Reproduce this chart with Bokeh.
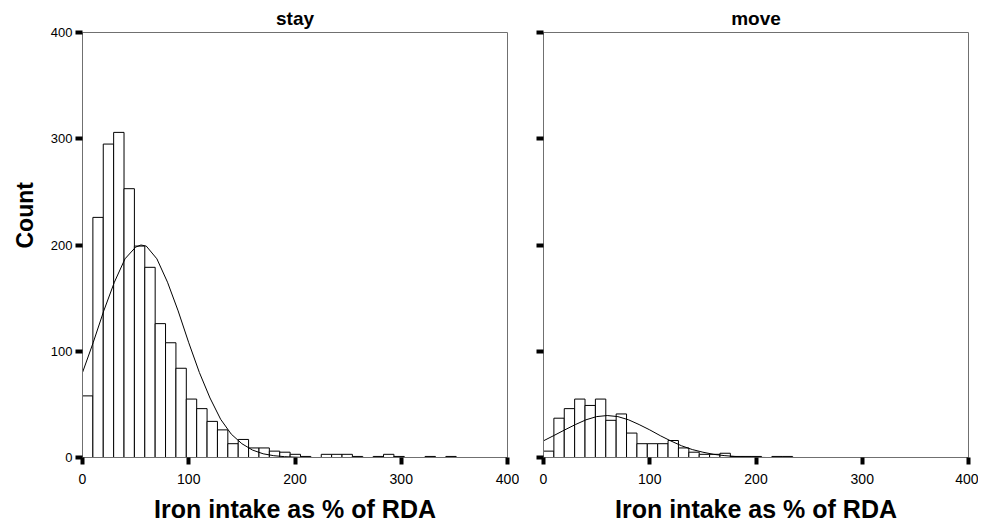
from bokeh.plotting import figure
from bokeh.models import Range1d, ColumnDataSource, FixedTicker, CustomLabelingPolicy, Title
from bokeh.layouts import row
from bokeh.embed import file_html
from bokeh.resources import INLINE

# ---- data ----
bin_width = 9.77
stay_counts = [58, 226, 295, 306, 253, 199, 179, 126, 108, 84,
               55, 46, 34, 26, 13, 17, 9, 9, 6, 5,
               3, 1, 0, 3, 3, 3, 1, 0, 1, 3,
               1, 0, 0, 1, 0, 1]
move_counts = [6, 37, 46, 55, 49, 55, 35, 41, 23, 13,
               13, 13, 16, 9, 5, 3, 3, 4, 1, 1,
               1, 0, 1, 1]

stay_curve_x = [0, 10, 20, 30, 40, 50, 55, 60, 70, 80, 90, 100, 110, 120,
                130, 140, 150, 160, 170, 180, 190, 200, 210]
stay_curve_y = [80, 108, 138, 165, 187, 198, 200, 199, 187, 165, 138, 108, 80, 56,
                36, 22, 13, 7, 3.5, 1.7, 0.8, 0.3, 0]
move_curve_x = [0, 10, 20, 30, 40, 50, 60, 70, 80, 90, 100, 110, 120,
                130, 140, 150, 160, 170, 180, 190, 200, 210]
move_curve_y = [15.7, 20.8, 26, 31, 35.5, 38.5, 39.5, 38.5, 35.5, 31, 26, 20.5, 15.5,
                11, 7.5, 5, 3, 1.8, 1, 0.5, 0.2, 0]

x_ticks = [0, 100, 200, 300, 400]
y_ticks = [0, 100, 200, 300, 400]
panel_titles = ["stay", "move"]
x_title = "Iron intake as % of RDA"
y_title = "Count"

FONT = "Liberation Sans"
FRAME = "#707070"


def make_panel(counts, cx, cy, title, show_y, width, bl, br):
    p = figure(width=width, height=527, output_backend="svg", toolbar_location=None,
               x_range=Range1d(0, 400), y_range=Range1d(0, 400),
               min_border_left=bl, min_border_right=br,
               min_border_top=32, min_border_bottom=70,
               title=title)
    p.title.align = "center"
    p.title.text_font = FONT
    p.title.text_font_size = "19px"
    p.title.text_font_style = "bold"
    p.title.text_color = "black"
    p.title.standoff = 7
    p.background_fill_color = "white"
    p.border_fill_color = "white"
    p.outline_line_color = FRAME
    p.outline_line_width = 1
    p.xgrid.visible = False
    p.ygrid.visible = False

    src = ColumnDataSource(dict(
        left=[i * bin_width for i in range(len(counts))],
        right=[(i + 1) * bin_width for i in range(len(counts))],
        top=counts,
    ))
    p.quad(left="left", right="right", top="top", bottom=0, source=src,
           fill_color="white", line_color="black", line_width=1)
    p.line(cx, cy, line_color="black", line_width=1)

    for ax in (p.xaxis[0], p.yaxis[0]):
        ax.axis_line_color = FRAME
        ax.axis_line_width = 1
        ax.major_tick_line_color = "black"
        ax.major_tick_line_width = 4
        ax.major_tick_out = 7
        ax.major_tick_in = 0
        ax.minor_tick_line_color = None
        ax.major_label_text_font = FONT
        ax.major_label_text_font_size = "14px"
        ax.major_label_text_color = "black"
        ax.axis_label_text_font = FONT
        ax.axis_label_text_font_size = "25px"
        ax.axis_label_text_font_style = "bold"
        ax.axis_label_text_color = "black"

    p.xaxis.ticker = FixedTicker(ticks=x_ticks)
    p.yaxis.ticker = FixedTicker(ticks=y_ticks)
    p.xaxis.axis_label = x_title
    p.xaxis.major_label_standoff = 9
    p.xaxis.axis_label_standoff = 8
    if show_y:
        p.yaxis.major_label_text_font_size = "13px"
        p.yaxis.major_label_standoff = 3
        ytitle = Title(text=y_title, align="left", offset=209, standoff=19,
                       text_font=FONT, text_font_size="23px",
                       text_font_style="bold", text_color="black")
        p.add_layout(ytitle, "left")
    else:
        p.yaxis.major_label_text_font_size = "1px"
        p.yaxis.major_label_policy = CustomLabelingPolicy(code="""
            for (const i of indices) { indices.unset(i) }
            return indices
        """)
        p.yaxis.major_label_standoff = 0
    return p


p1 = make_panel(stay_counts, stay_curve_x, stay_curve_y, panel_titles[0], True, 519, 82, 12)
p2 = make_panel(move_counts, move_curve_x, move_curve_y, panel_titles[1], False, 459, 24, 10)

layout = row(p1, p2)
open("out.html", "w").write(file_html(layout, INLINE))
